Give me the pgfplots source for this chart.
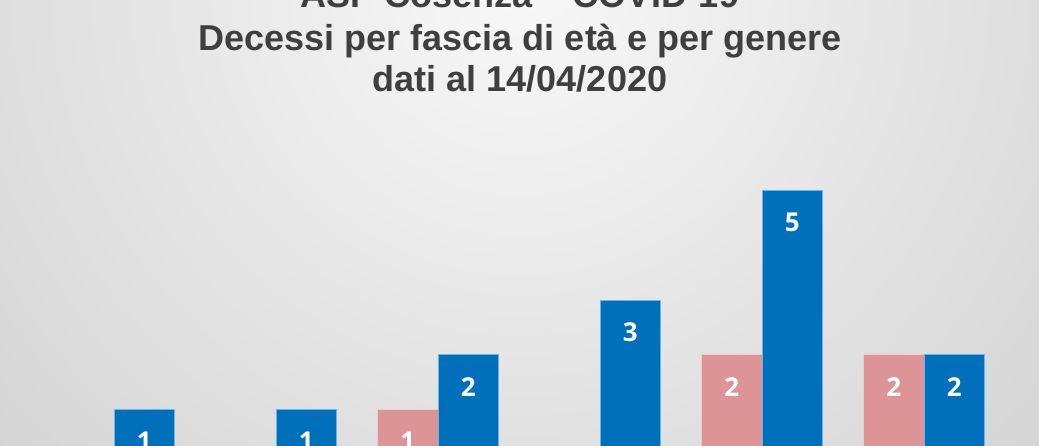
\documentclass[border=0pt]{standalone}
\usepackage{pgfplots}
\pgfplotsset{compat=1.18}
\usepackage{fontspec}
\setmainfont{Liberation Sans}
\newfontfamily\lblfont{Open Sans}

\definecolor{maschi}{HTML}{0070BA}
\definecolor{maschiedge}{HTML}{6DB2EA}
\definecolor{femmine}{HTML}{DC9497}
\definecolor{femmineedge}{HTML}{F3CACA}
\definecolor{titolo}{HTML}{3F3F3F}
\definecolor{bglight}{HTML}{F8F8F8}
\definecolor{bgdark}{HTML}{B4B4B4}

% 1 px of the reference = 0.5pt
\begin{document}
\begin{tikzpicture}
\useasboundingbox (0,0) rectangle (519.5pt,222.5pt);
\clip (0,0) rectangle (519.5pt,222.5pt);
\shade[inner color=bglight, outer color=bgdark]
  (260pt-680pt,230pt-680pt) rectangle (260pt+680pt,230pt+680pt);

\begin{scope}[font=\bfseries\fontsize{18pt}{20pt}\selectfont, text=titolo]
\node[anchor=base] at (260pt,218.6pt) {ASP Cosenza -- COVID-19};
\node[anchor=base] at (260pt,197.4pt) {Decessi per fascia di età e per genere};
\node[anchor=base] at (260pt,176.9pt) {dati al 14/04/2020};
\end{scope}

\begin{axis}[
  x=81pt, y=27.33pt,
  anchor=origin, at={(57pt,-9.5pt)},
  xmin=-0.9, xmax=5.9, ymin=0, ymax=6.5,
  hide axis, clip=false,
  ybar, bar width=30.25pt,
  /pgf/number format/assume math mode=true,
  nodes near coords,
  every node near coord/.append style={
    font=\lblfont\bfseries\fontsize{13pt}{15pt}\selectfont,
    text=white, anchor=center, yshift=-16pt},
]
% femmine
\addplot[fill=femmine, draw=femmineedge, line width=0.5pt, bar shift=-15.125pt]
  coordinates {(2,1) (4,2) (5,2)};
% maschi
\addplot[fill=maschi, draw=maschiedge, line width=0.5pt, bar shift=15.125pt]
  coordinates {(0,1) (1,1) (2,2) (3,3) (4,5) (5,2)};
\end{axis}
\end{tikzpicture}
\end{document}
